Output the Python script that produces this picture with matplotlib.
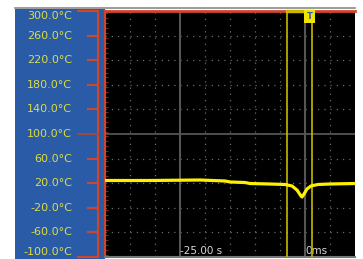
import matplotlib
matplotlib.use("Agg")
import matplotlib.pyplot as plt
from matplotlib.patches import Rectangle
from matplotlib.lines import Line2D
from matplotlib.ticker import MultipleLocator

# trace (seconds, deg C)
times = [-40, -31, -21, -16, -15, -12, -11, -7, -4, -2.6, -1.6, -0.8, -0.6,
         -0.2, 0.4, 1.2, 2.6, 5, 10]
temps = [24.4, 24.4, 25.2, 23.6, 22.0, 21.1, 19.5, 18.7, 17.9, 15.5, 8.9,
         -0.8, -2.4, 2.4, 10.6, 15.5, 17.9, 18.7, 19.5]

y_ticks = [300, 260, 220, 180, 140, 100, 60, 20, -20, -60, -100]
y_labels = ['%.1f\u00b0C' % v for v in y_ticks]
x_grid = [-35, -30, -25, -20, -15, -10, -5, 0, 5]
x_solid = [-25, 0]
x_labels = ['-25.00 s', '0ms']
cursors = [-3.6, 1.4]
trigger = 0

BLUE = '#2A5BA6'
RED = '#D2452A'
LABEL = '#DCDC44'
GRIDC = '#6a6a6a'
TRACE = '#FFF000'
CURSOR = '#C8B800'

W, H = 363, 259
fig = plt.figure(figsize=(W / 100, H / 100), dpi=100, facecolor='white')

def fx(px):
    return px / W

def fy(py):
    return 1 - py / H

# blue scale panel and top rule
fig.patches.append(Rectangle((fx(15), 0), fx(90), fy(9), transform=fig.transFigure,
                             facecolor=BLUE, edgecolor='none', zorder=-5))
fig.add_artist(Line2D([fx(15), fx(355)], [fy(8), fy(8)], color='#8a8a8a', lw=1.2))

ax = fig.add_axes([fx(105), fy(257), fx(250), fy(11) - fy(257)])
ax.set_facecolor('black')
ax.set_xlim(-40, 10)
ax.set_ylim(-100, 300)

for v in y_ticks[1:-1]:
    if v == 100:
        ax.axhline(v, color='#555555', lw=1.3)
    else:
        ax.axhline(v, color=GRIDC, lw=0.9, ls=(0, (1, 4)))
for t in x_grid:
    if t in x_solid:
        ax.axvline(t, color='#555555', lw=1.5)
    else:
        ax.axvline(t, color=GRIDC, lw=0.9, ls=(0, (1, 4)))

for t in cursors:
    ax.axvline(t, color=CURSOR, lw=1.2, zorder=4)
ax.plot(cursors, [300, 300], color=CURSOR, lw=2.5, zorder=6, clip_on=False)

ax.plot(times, temps, color=TRACE, lw=2.3, zorder=5, solid_capstyle='butt')

ax.text(trigger + 0.9, 299, 'T', color=BLUE, fontsize=6, fontweight='bold',
        ha='center', va='top', zorder=7,
        bbox=dict(boxstyle='square,pad=0.25', facecolor='#F2E400', edgecolor='none'))

for t, s in zip(x_solid, x_labels):
    ax.text(t, -98, s, color='#d8d8d8', fontsize=7.5, ha='left', va='bottom')

ax.set_xticks([])
ax.set_yticks([])
ax.yaxis.set_minor_locator(MultipleLocator(8))
ax.tick_params(axis='y', which='minor', direction='in', length=2,
               color='#7a2a20', width=0.8)
for side in ['left', 'top']:
    ax.spines[side].set_color(RED)
ax.spines['left'].set_linewidth(1.5)
ax.spines['top'].set_linewidth(2)
ax.spines['bottom'].set_color('#777777')
ax.spines['bottom'].set_linewidth(1.5)
ax.spines['right'].set_visible(False)

# scale axes with ticks and labels
sx = fig.add_axes([fx(15), fy(257), fx(83), fy(11) - fy(257)])
sx.set_facecolor('none')
sx.set_ylim(-100, 300)
sx.set_xlim(0, 1)
sx.axis('off')
tr = sx.get_yaxis_transform()
sx.plot([1, 1], [-100, 300], color=RED, lw=1.5, transform=tr, clip_on=False)
for v, s in zip(y_ticks, y_labels):
    long_tick = v in (300, 100, -100)
    L = 20 / 83 if long_tick else 10 / 83
    c = '#9a4a44' if v == 100 else RED
    sx.plot([1 - L, 1], [v, v], color=c, lw=1.5, transform=tr, clip_on=False)
    va = 'top' if v == 300 else ('bottom' if v == -100 else 'center')
    sx.text(57 / 83, v, s, color=LABEL, fontsize=8, ha='right', va=va,
            transform=tr)

fig.savefig('out.png', dpi=100, facecolor='white')
